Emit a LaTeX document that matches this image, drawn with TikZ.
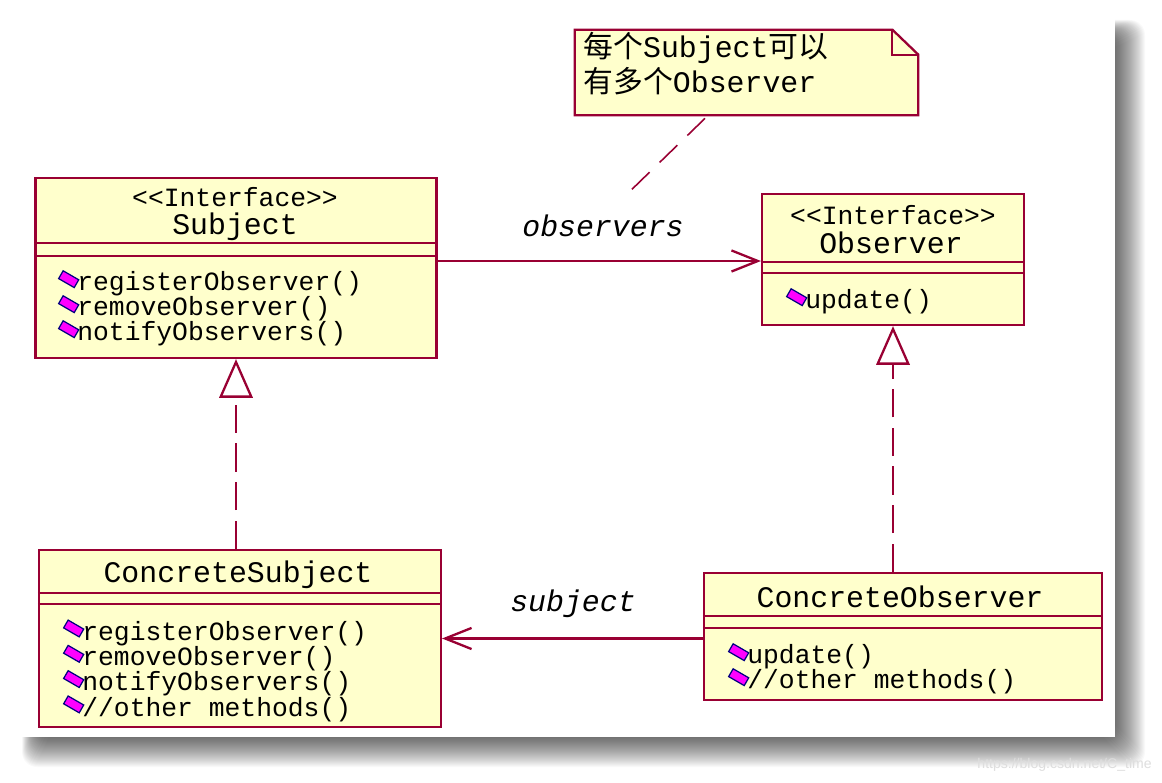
\documentclass[tikz,border=0pt]{standalone}
\usepackage{fontspec}
\setmonofont{Liberation Mono}
\newfontfamily\cjk{Noto Sans CJK SC}
\newfontfamily\markfont{Liberation Sans}
\usetikzlibrary{positioning,arrows.meta}

\definecolor{umlred}{RGB}{153,0,51}
\definecolor{umlfill}{RGB}{255,255,204}
\definecolor{iconpink}{RGB}{255,0,255}
\definecolor{iconblue}{RGB}{0,0,128}

\tikzset{
  classbox/.style={draw=umlred, fill=umlfill, line width=1.3pt, inner sep=0pt},
  classline/.style={draw=umlred, line width=1.3pt},
  titletext/.style={font=\ttfamily\fontsize{17}{17}\selectfont, inner sep=0pt},
  stereotext/.style={font=\ttfamily\fontsize{15}{15}\selectfont, inner sep=0pt},
  methtext/.style={font=\ttfamily\fontsize{15}{15}\selectfont, inner sep=0pt, anchor=west},
  methicon/.style={draw=iconblue, fill=iconpink, line width=0.7pt, rotate=-30,
    minimum width=0.36cm, minimum height=0.18cm, inner sep=0pt},
  notetext/.style={font=\ttfamily\fontsize{17}{17}\selectfont, inner sep=0pt, anchor=west},
  rolelabel/.style={font=\ttfamily\itshape\fontsize{17}{17}\selectfont, inner sep=0pt},
  assoc/.style={draw=umlred, line width=1.3pt, -{Straight Barb[length=15pt,width=12pt]}},
  realize/.style={draw=umlred, line width=1.3pt, dash pattern=on 16pt off 6pt,
    -{Triangle[open,length=22pt,width=19pt,fill=white]}},
  notelink/.style={draw=umlred, line width=0.9pt, dash pattern=on 14pt off 8pt},
}

\begin{document}
\begin{tikzpicture}[x=0.02cm, y=-0.02cm]

\useasboundingbox (0,0) rectangle (1162,783);

% screenshot frame and its shadow
\fill[white] (0,0) rectangle (1162,783);
\foreach \b in {-10,-9,...,20}
  \fill[black, opacity=0.024, rounded corners=0.3cm] ({32-0.5*\b},{30-0.5*\b}) rectangle ({1125+\b},{747+\b});
\fill[white] (20,18) rectangle (1115,737);

% Subject
\node[classbox, minimum width=8.02cm, minimum height=3.6cm] (subject) at (236,268) {};
\draw[classline] (subject.west |- 0,243) -- (subject.east |- 0,243);
\draw[classline] (subject.west |- 0,256) -- (subject.east |- 0,256);
\node[stereotext] (subjstereo) at (235,197) {<<Interface>>};
\node[titletext] (subjname) at (235,227) {Subject};
\foreach \m [count=\i] in {registerObserver(),removeObserver(),notifyObservers()} {
  \node[methtext] (sm\i) at (77,{259+25*\i}) {\m};
  \node[methicon, left=0pt of sm\i] {};
}

% Observer
\node[classbox, minimum width=5.24cm, minimum height=2.62cm] (observer) at (893,259.5) {};
\draw[classline] (observer.west |- 0,262) -- (observer.east |- 0,262);
\draw[classline] (observer.west |- 0,273) -- (observer.east |- 0,273);
\node[stereotext] (obsstereo) at (893,215) {<<Interface>>};
\node[titletext] (obsname) at (891,243) {Observer};
\node[methtext] (om1) at (805,302) {update()};
\node[methicon, left=0pt of om1] {};

% ConcreteSubject
\node[classbox, minimum width=8.04cm, minimum height=3.54cm] (concsubj) at (240,638.5) {};
\draw[classline] (concsubj.west |- 0,593) -- (concsubj.east |- 0,593);
\draw[classline] (concsubj.west |- 0,604) -- (concsubj.east |- 0,604);
\node[titletext] (csname) at (238,575) {ConcreteSubject};
\foreach \m [count=\i] in {registerObserver(),removeObserver(),notifyObservers(),//other methods()} {
  \node[methtext] (csm\i) at (82,{608+25.3*\i}) {\m};
  \node[methicon, left=0pt of csm\i] {};
}

% ConcreteObserver
\node[classbox, minimum width=7.96cm, minimum height=2.54cm] (concobs) at (903,636.5) {};
\draw[classline] (concobs.west |- 0,616) -- (concobs.east |- 0,616);
\draw[classline] (concobs.west |- 0,628) -- (concobs.east |- 0,628);
\node[titletext] (coname) at (900,597) {ConcreteObserver};
\foreach \m [count=\i] in {update(),//other methods()} {
  \node[methtext] (com\i) at (747,{632+25*\i}) {\m};
  \node[methicon, left=0pt of com\i] {};
}

% note
\node[inner sep=0pt, minimum width=6.86cm, minimum height=1.7cm] (note) at (746.5,72.5) {};
\draw[classbox] (note.north west) -- ([xshift=-0.52cm]note.north east)
  -- ([yshift=-0.5cm]note.north east) -- (note.south east) -- (note.south west) -- cycle;
\draw[classline] ([xshift=-0.52cm]note.north east) |- ([yshift=-0.5cm]note.north east);
\node[notetext] (noteline1) at (583,48) {{\cjk 每个}Subject{\cjk 可以}};
\node[notetext] (noteline2) at (583,81) {{\cjk 有多个}Observer};

% associations
\coordinate (obsrow) at (600,261);
\draw[assoc] (subject.east |- obsrow) -- (observer.west |- obsrow);
\node[rolelabel] (obslabel) at (603,226) {observers};
\draw[assoc] (concobs.west |- concsubj.east) -- (concsubj.east);
\node[rolelabel] (subjlabel) at (573,604) {subject};

% realizations
\draw[realize] (concsubj.north -| subject.south) -- (subject.south);
\draw[realize] (concobs.north -| observer.south) -- (observer.south);

% note link
\coordinate (notetip) at (623,198);
\draw[notelink] ([xshift=-0.83cm,yshift=-0.06cm]note.south) -- (notetip);

% watermark
\node[font=\markfont\fontsize{8}{8}\selectfont, text=black!13, anchor=east, inner sep=0pt] (mark) at (1152,765) {https://blog.csdn.net/C\_time};

\end{tikzpicture}
\end{document}
